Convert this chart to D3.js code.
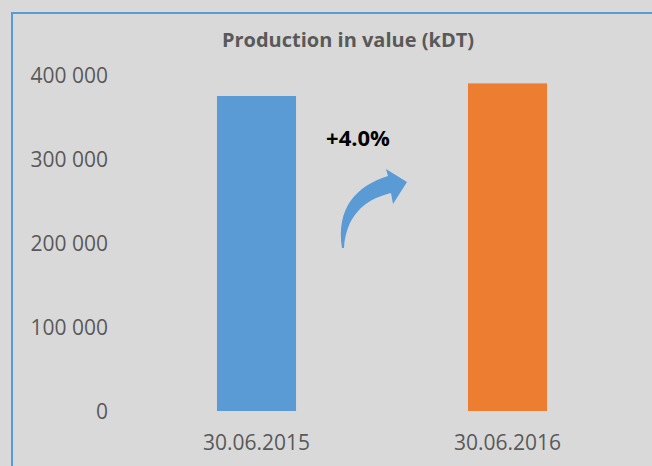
<!DOCTYPE html>
<html>
<head>
<meta charset="utf-8">
<script src="https://cdn.jsdelivr.net/npm/d3@7"></script>
<style>
  html, body { margin: 0; padding: 0; background: #d9d9d9; }
  svg { display: block; font-family: "Open Sans", Lato, sans-serif; }
</style>
</head>
<body>
<svg id="chart" width="652" height="466"></svg>
<script>
// chart values
var categories = ["30.06.2015", "30.06.2016"]
var values = [375000, 390000]
var yTicks = [0, 100000, 200000, 300000, 400000]
var barColors = ["#5b9bd5", "#ed7d31"]
var title = "Production in value (kDT)"
var growthLabel = "+4.0%"

var svg = d3.select("#chart")

// chart frame, runs past the right and bottom edge
svg.append("rect")
  .attr("x", 12).attr("y", 13)
  .attr("width", 700).attr("height", 500)
  .attr("fill", "#d9d9d9")
  .attr("stroke", "#5b9bd5")
  .attr("stroke-width", 2)

var x = d3.scaleBand()
  .domain(categories)
  .range([131, 633])
  .paddingInner(0.685)
  .paddingOuter(0.3425)

var y = d3.scaleLinear()
  .domain([0, 400000])
  .range([411, 75])

var fmt = function(d){ return d3.format(",")(d).replace(/,/g, " ") }

// y axis labels only (no line, no gridlines)
var yAxis = d3.axisLeft(y).tickValues(yTicks).tickFormat(fmt).tickSize(0).tickPadding(0)
var gy = svg.append("g").attr("transform", "translate(108,0)").call(yAxis)
  .attr("font-family", null)
  .attr("font-size", null)
gy.select(".domain").remove()
gy.selectAll("text")
  .attr("fill", "#595959")
  .style("font-size", "21px")
  .attr("dy", "0.34em")

// x axis labels
var xAxis = d3.axisBottom(x).tickSize(0).tickPadding(0)
var gx = svg.append("g").attr("transform", "translate(0,443)").call(xAxis)
  .attr("font-family", null)
  .attr("font-size", null)
gx.select(".domain").remove()
gx.selectAll("text")
  .attr("fill", "#595959")
  .style("font-size", "21px")
  .attr("dy", "0.34em")
  .attr("y", 0)

// bars
svg.selectAll("rect.bar")
  .data(values)
  .enter()
  .append("rect")
  .attr("class", "bar")
  .attr("x", function(d, i){ return x(categories[i]) })
  .attr("y", function(d){ return y(d) })
  .attr("width", x.bandwidth())
  .attr("height", function(d){ return y(0) - y(d) })
  .attr("fill", function(d, i){ return barColors[i] })

// title
svg.append("text")
  .attr("x", 348).attr("y", 47)
  .attr("text-anchor", "middle")
  .attr("fill", "#595959")
  .style("font-size", "20px")
  .style("font-weight", "bold")
  .text(title)

// growth annotation between the two bars
var midX = (x(categories[0]) + x.bandwidth() + x(categories[1])) / 2
svg.append("text")
  .attr("x", midX - 24).attr("y", 146)
  .attr("text-anchor", "middle")
  .attr("fill", "#000")
  .style("font-size", "22px")
  .style("font-weight", "bold")
  .text(growthLabel)

// curved arrow, local coords relative to its tail
var arrow = svg.append("g").attr("transform", "translate(" + (midX - 40) + ",248)")
arrow.append("path")
  .attr("d", "M0,0 C-6,-40 14,-62 46,-72 L44,-79 L65,-66 L51,-44 L49,-55 C20,-48 4,-30 2,0 Z")
  .attr("fill", "#5b9bd5")
</script>
</body>
</html>
